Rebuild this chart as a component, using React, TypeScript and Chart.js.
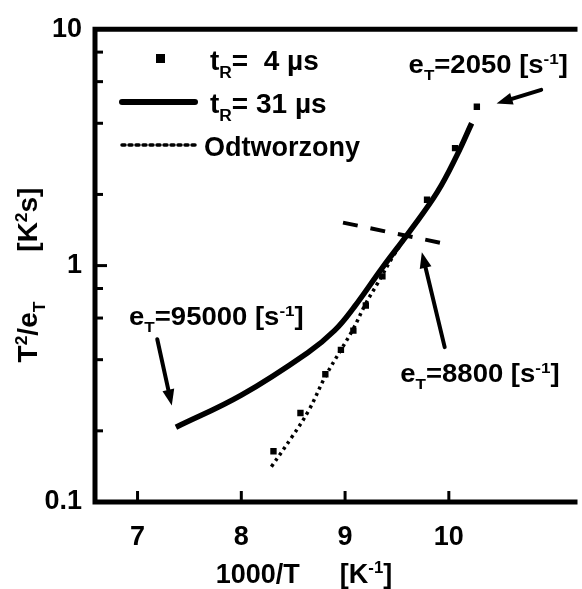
import React, { useEffect, useRef } from 'react';
import { Chart, registerables } from 'chart.js';
Chart.register(...registerables);

const FONT = '"Liberation Sans", Arial, sans-serif';

// axis ticks
const xTickValues = [7, 8, 9, 10];
const yLabelValues = [0.1, 1, 10];
const yMinorValues = [0.2, 0.4, 0.6, 0.8, 2, 4, 6, 8];

// t_R = 4 us (markers)
const fastX = [8.31, 8.57, 8.81, 8.96, 9.08, 9.2, 9.36, 9.79, 10.06, 10.27];
const fastY = [0.164, 0.238, 0.347, 0.44, 0.531, 0.678, 0.9, 1.9, 3.14, 4.7];

// t_R = 31 us (solid line)
const slowX = [7.37, 8.0, 8.64, 8.9, 9.09, 9.36, 9.63, 9.89, 10.08, 10.22];
const slowY = [0.207, 0.283, 0.428, 0.532, 0.67, 0.981, 1.41, 2.05, 2.94, 4.0];

// Odtworzony (dotted line)
const recX = [8.29, 8.49, 8.65, 8.81, 8.96, 9.08, 9.2, 9.31, 9.46, 9.63, 9.89, 10.08, 10.22];
const recY = [0.141, 0.189, 0.244, 0.34, 0.44, 0.541, 0.692, 0.836, 1.09, 1.41, 2.05, 2.94, 4.0];

// dashed tangent line
const tangentX = [8.98, 10.03];
const tangentY = [1.52, 1.22];

// annotations (e_T values), label centres and arrows in data units
const noteValues = ['2050', '95000', '8800'];
const noteX = [10.38, 7.76, 10.3];
const noteY = [7.15, 0.61, 0.35];
const arrowFromX = [10.89, 7.19, 9.96];
const arrowFromY = [5.54, 0.488, 0.452];
const arrowToX = [10.46, 7.33, 9.74];
const arrowToY = [4.85, 0.256, 1.14];

type Part = { t: string; s?: 'sub' | 'sup'; gap?: number };

function drawRich(
  ctx: CanvasRenderingContext2D,
  parts: Part[],
  x: number,
  yMid: number,
  size: number,
  align: 'left' | 'center',
  hScale = 1,
  weight = 'bold'
) {
  const items = parts.map((p) => {
    const fs = p.s ? size * 0.62 : size;
    ctx.font = `${weight} ${fs}px ${FONT}`;
    const w = p.gap !== undefined ? p.gap : ctx.measureText(p.t).width * hScale;
    return { p, fs, w };
  });
  const total = items.reduce((a, b) => a + b.w, 0);
  let cx = align === 'center' ? x - total / 2 : x;
  const base = yMid + size * 0.36;
  ctx.textBaseline = 'alphabetic';
  ctx.textAlign = 'left';
  ctx.fillStyle = '#000';
  for (const it of items) {
    if (it.p.t) {
      ctx.font = `${weight} ${it.fs}px ${FONT}`;
      const dy = it.p.s === 'sub' ? size * 0.28 : it.p.s === 'sup' ? -size * 0.36 : 0;
      ctx.save();
      ctx.translate(cx, base + dy);
      ctx.scale(hScale, 1);
      ctx.fillText(it.p.t, 0, 0);
      ctx.restore();
    }
    cx += it.w;
  }
}

function drawArrow(ctx: CanvasRenderingContext2D, x1: number, y1: number, x2: number, y2: number) {
  const ang = Math.atan2(y2 - y1, x2 - x1);
  const headLen = 16;
  const headW = 6;
  const bx = x2 - Math.cos(ang) * headLen;
  const by = y2 - Math.sin(ang) * headLen;
  ctx.strokeStyle = '#000';
  ctx.lineWidth = 4;
  ctx.lineCap = 'round';
  ctx.beginPath();
  ctx.moveTo(x1, y1);
  ctx.lineTo(bx, by);
  ctx.stroke();
  ctx.fillStyle = '#000';
  ctx.beginPath();
  ctx.moveTo(x2, y2);
  ctx.lineTo(bx + Math.sin(ang) * headW, by - Math.cos(ang) * headW);
  ctx.lineTo(bx - Math.sin(ang) * headW, by + Math.cos(ang) * headW);
  ctx.closePath();
  ctx.fill();
}

const notePlugin = {
  id: 'notes',
  beforeDraw(chart: any) {
    const ctx = chart.ctx;
    ctx.save();
    ctx.fillStyle = '#fff';
    ctx.fillRect(0, 0, chart.width, chart.height);
    ctx.restore();
  },
  afterDraw(chart: any) {
    const ctx: CanvasRenderingContext2D = chart.ctx;
    const xs = chart.scales.x;
    const ys = chart.scales.y;
    const { left, right, top, bottom } = chart.chartArea;
    ctx.save();
    // frame
    ctx.strokeStyle = '#000';
    ctx.lineCap = 'butt';
    ctx.lineWidth = 5;
    ctx.beginPath();
    ctx.moveTo(right, top);
    ctx.lineTo(left, top);
    ctx.lineTo(left, bottom);
    ctx.lineTo(right, bottom);
    ctx.stroke();
    // inward ticks
    ctx.lineWidth = 3;
    for (const v of xTickValues) {
      const px = xs.getPixelForValue(v);
      ctx.beginPath();
      ctx.moveTo(px, bottom);
      ctx.lineTo(px, bottom - 11);
      ctx.stroke();
    }
    for (const v of yMinorValues) {
      const py = ys.getPixelForValue(v);
      ctx.beginPath();
      ctx.moveTo(left, py);
      ctx.lineTo(left + 8, py);
      ctx.stroke();
    }
    {
      const py = ys.getPixelForValue(1);
      ctx.beginPath();
      ctx.moveTo(left, py);
      ctx.lineTo(left + 12, py);
      ctx.stroke();
    }
    // arrows
    for (let i = 0; i < arrowFromX.length; i++) {
      drawArrow(
        ctx,
        xs.getPixelForValue(arrowFromX[i]),
        ys.getPixelForValue(arrowFromY[i]),
        xs.getPixelForValue(arrowToX[i]),
        ys.getPixelForValue(arrowToY[i])
      );
    }
    // annotation labels
    for (let i = 0; i < noteValues.length; i++) {
      drawRich(
        ctx,
        [{ t: 'e' }, { t: 'T', s: 'sub' }, { t: '=' + noteValues[i] + ' [s' }, { t: '-1', s: 'sup' }, { t: ']' }],
        xs.getPixelForValue(noteX[i]),
        ys.getPixelForValue(noteY[i]),
        25,
        'center',
        1.1
      );
    }
    // legend
    ctx.fillStyle = '#000';
    ctx.fillRect(156, 54, 9, 9);
    ctx.lineWidth = 6;
    ctx.setLineDash([]);
    ctx.beginPath();
    ctx.moveTo(122, 102);
    ctx.lineTo(195, 102);
    ctx.stroke();
    ctx.lineWidth = 3.5;
    ctx.setLineDash([3, 4]);
    ctx.beginPath();
    ctx.moveTo(122, 145);
    ctx.lineTo(195, 145);
    ctx.stroke();
    ctx.setLineDash([]);
    drawRich(ctx, [{ t: 't' }, { t: 'R', s: 'sub' }, { t: '=  4 µs' }], 210, 60, 28, 'left');
    drawRich(ctx, [{ t: 't' }, { t: 'R', s: 'sub' }, { t: '= 31 µs' }], 210, 103, 28, 'left');
    drawRich(ctx, [{ t: 'Odtworzony' }], 204, 146, 27, 'left');
    // axis titles
    drawRich(ctx, [{ t: '1000/T' }, { t: '', gap: 40 }, { t: '[K' }, { t: '-1', s: 'sup' }, { t: ']' }], 304, 573, 27, 'center');
    ctx.save();
    ctx.translate(27, 275);
    ctx.rotate(-Math.PI / 2);
    drawRich(
      ctx,
      [{ t: 'T' }, { t: '2', s: 'sup' }, { t: '/e' }, { t: 'T', s: 'sub' }, { t: '', gap: 50 }, { t: '[K' }, { t: '2', s: 'sup' }, { t: 's]' }],
      0,
      0,
      28,
      'center'
    );
    ctx.restore();
    ctx.restore();
  },
};

export default function App() {
  const ref = useRef<HTMLCanvasElement>(null);
  useEffect(() => {
    document.body.style.margin = '0';
    const pts = (xs: number[], ys: number[]) => xs.map((x, i) => ({ x, y: ys[i] }));
    const chart = new Chart(ref.current as HTMLCanvasElement, {
      type: 'line',
      data: {
        datasets: [
          {
            label: 'Odtworzony',
            data: pts(recX, recY),
            borderColor: '#000',
            borderWidth: 3.5,
            borderDash: [3, 4],
            pointRadius: 0,
            tension: 0.4,
            fill: false,
          },
          {
            label: 'tR = 31 µs',
            data: pts(slowX, slowY),
            borderColor: '#000',
            borderWidth: 5.5,
            pointRadius: 0,
            tension: 0.4,
            fill: false,
          },
          {
            label: 'tR = 4 µs',
            data: pts(fastX, fastY),
            showLine: false,
            pointStyle: 'rect',
            pointRadius: 4.5,
            pointBackgroundColor: '#000',
            pointBorderWidth: 0,
            borderColor: '#000',
          },
          {
            label: 'tangent',
            data: pts(tangentX, tangentY),
            borderColor: '#000',
            borderWidth: 4,
            borderDash: [15, 13],
            pointRadius: 0,
            fill: false,
          },
        ],
      } as any,
      options: {
        animation: false,
        responsive: false,
        maintainAspectRatio: false,
        layout: { padding: { top: 20, right: 0, left: 0, bottom: 0 } },
        plugins: { legend: { display: false }, tooltip: { enabled: false } },
        scales: {
          x: {
            type: 'linear',
            min: 6.59,
            max: 11.24,
            afterFit: (s: any) => {
              s.height = 87;
            },
            afterBuildTicks: (s: any) => {
              s.ticks = xTickValues.map((v) => ({ value: v }));
            },
            ticks: {
              font: { family: FONT, size: 27, weight: 'bold' },
              color: '#000',
              padding: 19,
              maxRotation: 0,
              callback: (v: any) => String(v),
            },
            grid: { display: false, drawTicks: false },
            border: { display: false },
          },
          y: {
            type: 'logarithmic',
            min: 0.1,
            max: 10,
            afterFit: (s: any) => {
              s.width = 95;
            },
            afterBuildTicks: (s: any) => {
              s.ticks = yLabelValues.map((v) => ({ value: v }));
            },
            ticks: {
              font: { family: FONT, size: 27, weight: 'bold' },
              color: '#000',
              padding: 13,
              callback: (v: any) => String(v),
            },
            grid: { display: false, drawTicks: false },
            border: { display: false },
          },
        },
      } as any,
      plugins: [notePlugin],
    });
    return () => chart.destroy();
  }, []);
  return (
    <div style={{ width: 582, height: 589, background: '#fff' }}>
      <canvas ref={ref} width={582} height={589} style={{ display: 'block' }} />
    </div>
  );
}
